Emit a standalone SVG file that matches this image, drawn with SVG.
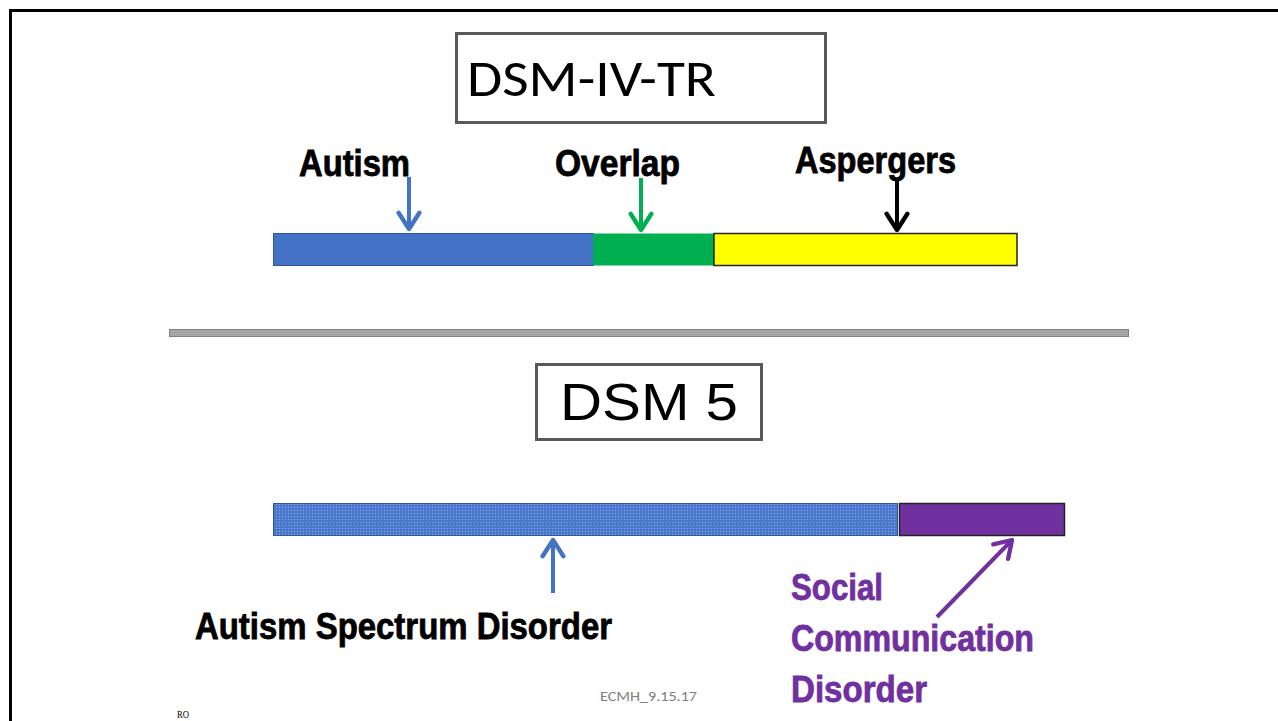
<svg xmlns="http://www.w3.org/2000/svg" width="1278" height="721" viewBox="0 0 1278 721">
  <style>
    .hdr { fill: #fff; stroke: #595959; stroke-width: 3; }
    .lbl { font-family: "Liberation Sans Narrow", "Liberation Sans", sans-serif; font-weight: bold; font-size: 36px; stroke-width: 0.8px; }
    .blk { fill: #000; stroke: #000; }
    .scd { fill: #7030A0; stroke: #7030A0; }
  </style>
  <defs>
    <pattern id="grid" width="3" height="3" patternUnits="userSpaceOnUse">
      <rect width="3" height="3" fill="#4A78CC"/>
      <rect width="1" height="1" fill="#8FAEE6"/>
    </pattern>
    <marker id="ahBlue" viewBox="0 0 12 12" refX="10" refY="6" markerWidth="6.5" markerHeight="6.5" orient="auto" markerUnits="strokeWidth">
      <path d="M2.5,1.2 L10,6 L2.5,10.8" fill="none" stroke="#4472C4" stroke-width="2" stroke-linecap="round" stroke-linejoin="round"/>
    </marker>
    <marker id="ahGreen" viewBox="0 0 12 12" refX="10" refY="6" markerWidth="6.5" markerHeight="6.5" orient="auto" markerUnits="strokeWidth">
      <path d="M2.5,1.2 L10,6 L2.5,10.8" fill="none" stroke="#00B050" stroke-width="2" stroke-linecap="round" stroke-linejoin="round"/>
    </marker>
    <marker id="ahBlack" viewBox="0 0 12 12" refX="10" refY="6" markerWidth="6.5" markerHeight="6.5" orient="auto" markerUnits="strokeWidth">
      <path d="M2.5,1.2 L10,6 L2.5,10.8" fill="none" stroke="#000" stroke-width="2" stroke-linecap="round" stroke-linejoin="round"/>
    </marker>
    <marker id="ahPurple" viewBox="0 0 12 12" refX="10" refY="6" markerWidth="6.5" markerHeight="6.5" orient="auto" markerUnits="strokeWidth">
      <path d="M2.5,1.2 L10,6 L2.5,10.8" fill="none" stroke="#7030A0" stroke-width="2" stroke-linecap="round" stroke-linejoin="round"/>
    </marker>
  </defs>

  <rect width="1278" height="721" fill="#fff"/>
  <!-- page frame -->
  <path d="M10.5,721 V10.5 H1278" fill="none" stroke="#000" stroke-width="3"/>

  <!-- upper title -->
  <g id="title-dsm4">
    <rect class="hdr" x="456.5" y="33.5" width="369" height="89"/>
    <text x="467" y="96" font-family="Carlito, 'Liberation Sans', sans-serif" font-size="51" fill="#000" textLength="249" lengthAdjust="spacingAndGlyphs">DSM-IV-TR</text>
  </g>

  <!-- upper spectrum bar -->
  <g id="bar-autism">
    <rect x="273.5" y="233.5" width="320" height="32" fill="#4472C4" stroke="#2F5597" stroke-width="1"/>
  </g>
  <g id="bar-overlap">
    <rect x="593" y="233.5" width="121" height="32" fill="#00B050"/>
  </g>
  <g id="bar-aspergers">
    <rect x="714" y="233.5" width="303" height="32" fill="#FFFF00" stroke="#222" stroke-width="1.5"/>
  </g>

  <g id="label-autism">
    <text class="lbl blk" x="299" y="176" textLength="111" lengthAdjust="spacingAndGlyphs">Autism</text>
  </g>
  <g id="label-overlap">
    <text class="lbl blk" x="555" y="176" textLength="125" lengthAdjust="spacingAndGlyphs">Overlap</text>
  </g>
  <g id="label-aspergers">
    <text class="lbl blk" x="795" y="173" textLength="161" lengthAdjust="spacingAndGlyphs">Aspergers</text>
  </g>

  <!-- divider -->
  <rect x="169.5" y="329.5" width="959" height="7" fill="#A6A6A6" stroke="#808080" stroke-width="1"/>

  <!-- lower title -->
  <g id="title-dsm5">
    <rect class="hdr" x="536.5" y="364.5" width="225" height="75"/>
    <text x="560" y="420" font-family="'Liberation Sans', sans-serif" font-size="52" fill="#000" textLength="178" lengthAdjust="spacingAndGlyphs">DSM 5</text>
  </g>

  <!-- lower spectrum bar -->
  <g id="bar-asd">
    <rect x="273.5" y="503.5" width="624" height="32" fill="url(#grid)" stroke="#2F5597" stroke-width="1"/>
  </g>
  <g id="bar-scd">
    <rect x="899.5" y="503.5" width="165" height="32" fill="#7030A0" stroke="#222" stroke-width="1.5"/>
  </g>

  <g id="label-asd">
    <text class="lbl blk" x="195" y="639" textLength="417" lengthAdjust="spacingAndGlyphs">Autism Spectrum Disorder</text>
  </g>
  <g id="label-scd">
    <text class="lbl scd" x="791" y="600" textLength="92" lengthAdjust="spacingAndGlyphs">Social</text>
    <text class="lbl scd" x="791" y="651" textLength="243" lengthAdjust="spacingAndGlyphs">Communication</text>
    <text class="lbl scd" x="791" y="702" textLength="136" lengthAdjust="spacingAndGlyphs">Disorder</text>
  </g>

  <!-- pointer arrows -->
  <g id="connectors" fill="none" stroke-width="4">
    <line x1="409" y1="177" x2="409" y2="229" stroke="#4472C4" marker-end="url(#ahBlue)"/>
    <line x1="641" y1="178" x2="641" y2="230" stroke="#00B050" marker-end="url(#ahGreen)"/>
    <line x1="897" y1="178" x2="897" y2="230" stroke="#000" marker-end="url(#ahBlack)"/>
    <line x1="553" y1="593" x2="553" y2="540" stroke="#4472C4" marker-end="url(#ahBlue)"/>
    <line x1="937" y1="617" x2="1012" y2="540" stroke="#7030A0" marker-end="url(#ahPurple)"/>
  </g>

  <!-- footer -->
  <text x="600" y="701" font-family="Carlito, 'Liberation Sans', sans-serif" font-size="14" fill="#808080" textLength="97" lengthAdjust="spacingAndGlyphs">ECMH_9.15.17</text>
  <text x="177" y="718" font-family="'Liberation Serif', serif" font-size="10" fill="#000" textLength="12" lengthAdjust="spacingAndGlyphs">RO</text>
</svg>
